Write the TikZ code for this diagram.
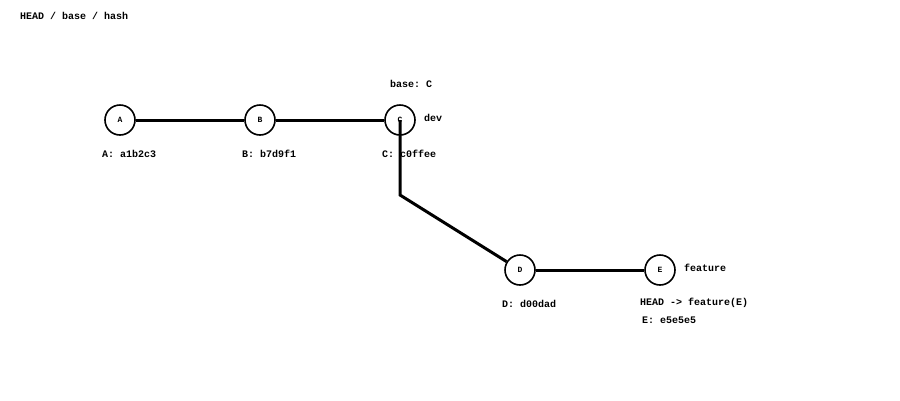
\documentclass[tikz,border=0pt]{standalone}
\usepackage{fontspec}
\setmonofont{Liberation Mono}
\begin{document}
\begin{tikzpicture}[x=1pt,y=-1pt,
  commit/.style={circle,draw,line width=1.6pt,minimum size=30pt,inner sep=0pt,fill=white,font=\ttfamily\bfseries\fontsize{8}{9}\selectfont},
  edge/.style={line width=3pt},
  lbl/.style={anchor=west,inner sep=0pt,font=\ttfamily\bfseries\fontsize{10}{11}\selectfont}]
\useasboundingbox (0,0) rectangle (900,400);
\coordinate (bend) at (400,195);
\node[commit] (A) at (120,120) {A};
\node[commit] (B) at (260,120) {B};
\node[commit] (C) at (400,120) {C};
\node[commit] (D) at (520,270) {D};
\node[commit] (E) at (660,270) {E};
\draw[edge] (A) -- (B);
\draw[edge] (B) -- (C);
\draw[edge] (D) -- (E);
\draw[edge] (C.center) -- (bend) -- (D);
\node[lbl] (title) at (20,16) {HEAD / base / hash};
\node[lbl] (la) at (102,154) {A: a1b2c3};
\node[lbl] (lb) at (242,154) {B: b7d9f1};
\node[lbl] (lc) at (382,154) {C: c0ffee};
\node[lbl] (ld) at (502,304) {D: d00dad};
\node[lbl] (lbase) at (390,84) {base: C};
\node[lbl] (ldev) at (424,118) {dev};
\node[lbl] (lfeat) at (684,268) {feature};
\node[lbl] (lhead) at (640,303) {HEAD -> feature(E)};
\node[lbl] (le) at (642,320) {E: e5e5e5};
\end{tikzpicture}
\end{document}
